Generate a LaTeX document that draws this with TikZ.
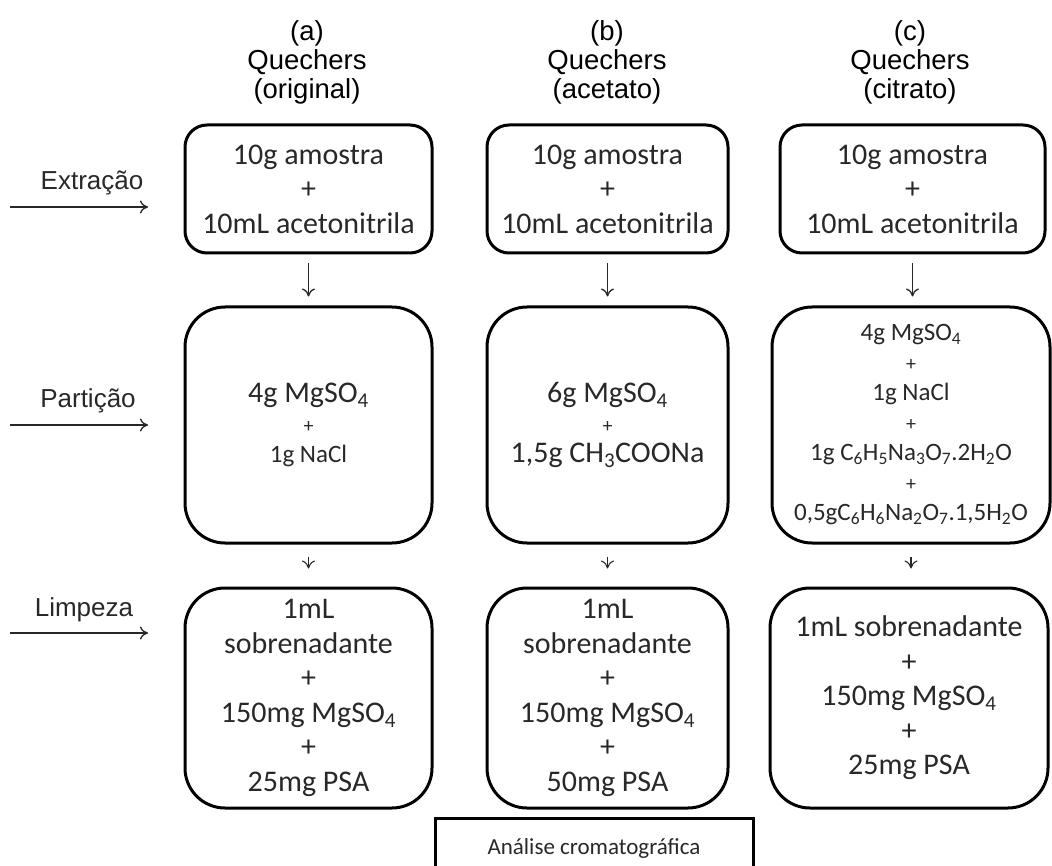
\documentclass[tikz,border=0pt]{standalone}
\usepackage{fontspec}
\setmainfont{Carlito}
\newfontfamily\arialfont{Liberation Sans}
\usetikzlibrary{arrows.meta}

\definecolor{inkgray}{RGB}{40,40,40}
\newcommand{\chemsub}[1]{\textsubscript{#1}}
\newcommand{\bigtxt}{\fontsize{30}{34.5}\selectfont}
\newcommand{\midtxt}{\fontsize{25}{30}\selectfont}
\newcommand{\smallplus}{{\fontsize{20}{20}\selectfont +}}

\tikzset{
  stepbox/.style={draw=black, line width=3pt, rounded corners=#1, align=center,
    text=inkgray, inner sep=0pt},
  header/.style={align=center, text=black, font=\arialfont\fontsize{27.5}{29}\selectfont},
  stage/.style={text=inkgray, font=\arialfont\fontsize{26}{28}\selectfont},
  flow/.style={->, line width=1.3pt, draw=inkgray},
}

\begin{document}
\begin{tikzpicture}[x=1pt, y=-1pt, >={To[length=8pt,width=13pt]}]

    \useasboundingbox (0,0) rectangle (1052,866);
    \clip (0,0) rectangle (1052,866);

    % Column headers
    \node[header] (head-a) at (307,62) {(a)\\Quechers\\(original)};
    \node[header] (head-b) at (607,62) {(b)\\Quechers\\(acetato)};
    \node[header] (head-c) at (910,62) {(c)\\Quechers\\(citrato)};

    % Stage labels on the left
    \node[stage] (ext-label) at (92,183) {Extração};
    \coordinate (ext-in) at (10,207);
    \coordinate (ext-out) at (148,207);
    \draw[flow] (ext-in) -- (ext-out);

    \node[stage] (part-label) at (88,401) {Partição};
    \coordinate (part-in) at (10,425);
    \coordinate (part-out) at (148,425);
    \draw[flow] (part-in) -- (part-out);

    \node[stage] (clean-label) at (84,610) {Limpeza};
    \coordinate (clean-in) at (10,633);
    \coordinate (clean-out) at (148,633);
    \draw[flow] (clean-in) -- (clean-out);

    % Extraction boxes
    \node[stepbox=22pt, minimum width=247pt, minimum height=128pt, font=\bigtxt]
        (ext-a) at (308.5,189) {10g amostra\\+\\10mL acetonitrila};
    \node[stepbox=22pt, minimum width=241pt, minimum height=128pt, font=\bigtxt]
        (ext-b) at (607.5,189) {10g amostra\\+\\10mL acetonitrila};
    \node[stepbox=22pt, minimum width=265pt, minimum height=128pt, font=\bigtxt]
        (ext-c) at (912.5,189) {10g amostra\\+\\10mL acetonitrila};

    % Partition boxes
    \node[stepbox=40pt, minimum width=247pt, minimum height=236pt, font=\midtxt]
        (part-a) at (308.5,425) {{\bigtxt 4g MgSO\chemsub{4}}\\\smallplus\\1g NaCl};
    \node[stepbox=40pt, minimum width=241pt, minimum height=236pt, font=\midtxt]
        (part-b) at (607.5,425) {{\bigtxt 6g MgSO\chemsub{4}}\\\smallplus\\{\bigtxt 1,5g CH\chemsub{3}COONa}};
    \node[stepbox=40pt, minimum width=278pt, minimum height=236pt, font=\midtxt]
        (part-c) at (911,425) {4g MgSO\chemsub{4}\\\smallplus\\1g NaCl\\\smallplus\\
        1g C\chemsub{6}H\chemsub{5}Na\chemsub{3}O\chemsub{7}.2H\chemsub{2}O\\\smallplus\\
        0,5gC\chemsub{6}H\chemsub{6}Na\chemsub{2}O\chemsub{7}.1,5H\chemsub{2}O};

    % Clean-up boxes
    \node[stepbox=40pt, minimum width=247pt, minimum height=220pt, font=\bigtxt]
        (clean-a) at (308.5,698) {1mL\\sobrenadante\\+\\150mg MgSO\chemsub{4}\\+\\25mg PSA};
    \node[stepbox=40pt, minimum width=241pt, minimum height=220pt, font=\bigtxt]
        (clean-b) at (607.5,698) {1mL\\sobrenadante\\+\\150mg MgSO\chemsub{4}\\+\\50mg PSA};
    \node[stepbox=40pt, minimum width=278pt, minimum height=220pt, font=\bigtxt]
        (clean-c) at (909,698) {1mL sobrenadante\\+\\150mg MgSO\chemsub{4}\\+\\25mg PSA};

    % Final analysis (cut by the page edge)
    \node[draw=black, line width=3pt, minimum width=318pt, minimum height=60pt,
        text=inkgray, font=\fontsize{23}{26}\selectfont]
        (analysis) at (594,848) {Análise cromatográfica};

    % Flow between stages
    \foreach \col in {a,b,c} {
        \draw[flow, shorten <=9pt, shorten >=9pt]
            (ext-\col.south) -- (ext-\col.south |- part-\col.north);
        \draw[flow, line width=1.1pt, shorten <=12pt, shorten >=18pt]
            (part-\col.south) -- (part-\col.south |- clean-\col.north);
    }

\end{tikzpicture}
\end{document}
